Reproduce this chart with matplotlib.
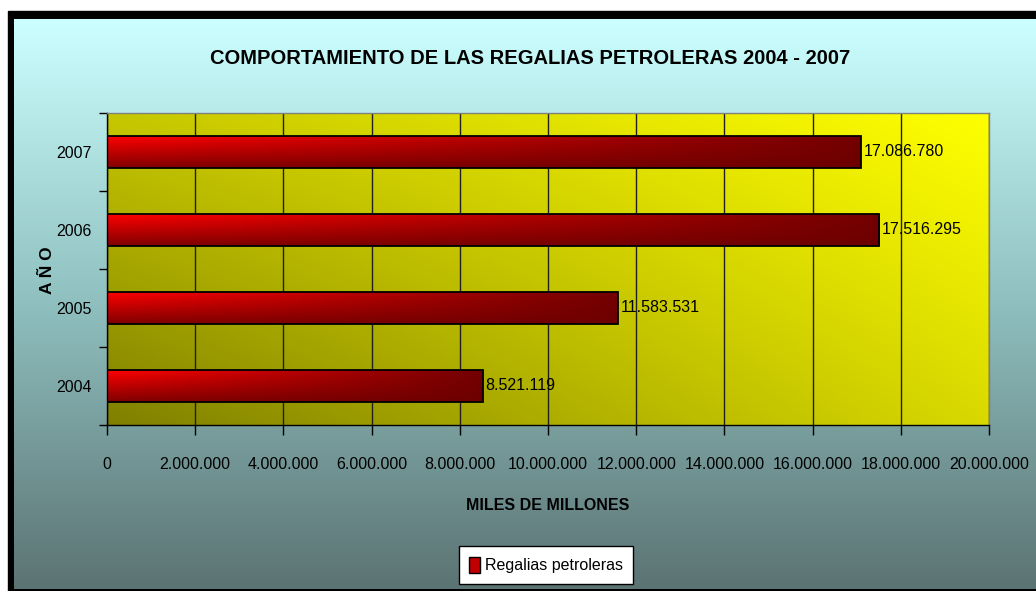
import numpy as np
import matplotlib
matplotlib.use('Agg')
import matplotlib.pyplot as plt
from matplotlib.colors import LinearSegmentedColormap
from matplotlib.patches import Rectangle, Patch
from matplotlib.ticker import FuncFormatter, MultipleLocator
from matplotlib import font_manager

# ─── Data ──────────────────────────────────────────────────────────────────
years = ['2004', '2005', '2006', '2007']
regalias = [8521119, 11583531, 17516295, 17086780]
series_name = 'Regalias petroleras'

TITLE = 'COMPORTAMIENTO DE LAS REGALIAS PETROLERAS 2004 - 2007'
XLABEL = 'MILES DE MILLONES'
YLABEL = 'A Ñ O'

# ─── Fonts ─────────────────────────────────────────────────────────────────
installed = {f.name for f in font_manager.fontManager.ttflist}
FAMILY = ['Liberation Sans Narrow', 'Liberation Sans', 'DejaVu Sans']
FAMILY = [f for f in FAMILY if f in installed] or ['DejaVu Sans']
plt.rcParams['font.family'] = FAMILY
FS = 11.5


def dots(v, _pos=None):
    return f'{int(round(v)):,}'.replace(',', '.')


W, H = 1036, 591
fig = plt.figure(figsize=(W / 100, H / 100), dpi=100)
fig.patch.set_facecolor('white')

# ─── Background (black frame + cyan→slate gradient) ────────────────────────
bg = fig.add_axes([0, 0, 1, 1], zorder=-10)
bg.add_patch(Rectangle((8, 11), W, H, color='black', zorder=1))
bg_cmap = LinearSegmentedColormap.from_list(
    'bg', [(0.0, '#ccffff'), (0.5, '#8fbfbf'), (1.0, '#5c7373')])
grad = np.linspace(0, 1, 256).reshape(-1, 1)
bg.imshow(grad, cmap=bg_cmap, aspect='auto', extent=(14, W + 10, 589, 19),
          interpolation='bicubic', zorder=2)
bg.set_xlim(0, W)
bg.set_ylim(H, 0)
bg.axis('off')

# ─── Plot area ─────────────────────────────────────────────────────────────
left, right = 107 / W, 989 / W
bottom, top = 1 - 425 / H, 1 - 113 / H
ax = fig.add_axes([left, bottom, right - left, top - bottom])
ax.patch.set_alpha(0)

XMAX = 20_000_000

# diagonal olive→yellow gradient
tx, ty = np.meshgrid(np.linspace(0, 1, 200), np.linspace(0, 1, 200))
v = 0.5 + 0.28 * ty + 0.35 * tx - 0.13 * tx * ty
img = np.dstack([v, v, np.zeros_like(v)])
ax.imshow(img, origin='lower', aspect='auto',
          extent=(0, XMAX, -0.5, len(years) - 0.5), zorder=0,
          interpolation='bicubic')

ax.xaxis.set_major_locator(MultipleLocator(2_000_000))
ax.xaxis.set_major_formatter(FuncFormatter(dots))
ax.grid(axis='x', color='#202020', linewidth=1.0, zorder=1)
ax.set_axisbelow(True)

# bars with red gradient fill
bars = ax.barh(range(len(years)), regalias, height=0.4, color='none',
               edgecolor='black', linewidth=1.3, zorder=3)
hx = np.linspace(0, 1, 200)
hy = np.linspace(0, 1, 50).reshape(-1, 1)
top_c = 255 - 140 * hx          # bright red → dark red along the bar
bot_c = 128 - 18 * hx
red = (bot_c + (top_c - bot_c) * hy) / 255.0
bar_img = np.dstack([red, np.zeros_like(red), np.zeros_like(red)])
for b in bars:
    x0, y0 = b.get_x(), b.get_y()
    im = ax.imshow(bar_img, origin='lower', aspect='auto',
                   extent=(x0, x0 + b.get_width(), y0, y0 + b.get_height()),
                   zorder=2, interpolation='bicubic')
    im.set_clip_path(b)
ax.set_xlim(0, XMAX)
ax.set_ylim(-0.5, len(years) - 0.5)

for i, val in enumerate(regalias):
    ax.annotate(dots(val), (val, i), xytext=(2, 0), textcoords='offset points',
                va='center', ha='left', fontsize=FS, zorder=5)

# ticks
ax.set_yticks(np.arange(-0.5, len(years), 1.0))
ax.set_yticklabels([])
ax.set_yticks(range(len(years)), minor=True)
ax.set_yticklabels(years, minor=True, fontsize=FS)
ax.tick_params(axis='y', which='major', direction='out', length=6,
               color='black', width=1)
ax.tick_params(axis='y', which='minor', length=0, pad=11)
ax.tick_params(axis='x', direction='out', length=7, width=1, pad=16,
               labelsize=FS)

for s in ('left', 'bottom'):
    ax.spines[s].set_color('black')
    ax.spines[s].set_linewidth(1.0)
for s in ('top', 'right'):
    ax.spines[s].set_color('#808080')
    ax.spines[s].set_linewidth(1.0)

# ─── Text ──────────────────────────────────────────────────────────────────
fig.text(530 / W, 1 - 58 / H, TITLE, ha='center', va='center',
         fontsize=14.5, fontweight='bold')
fig.text(548 / W, 1 - 505 / H, XLABEL, ha='center', va='center',
         fontsize=FS, fontweight='bold')
fig.text(47 / W, 1 - 270 / H, YLABEL, ha='center', va='center',
         fontsize=FS + 1, fontweight='bold', rotation=90)

leg = fig.legend(handles=[Patch(facecolor='#c00000', edgecolor='black',
                                label=series_name)],
                 loc='center', bbox_to_anchor=(546 / W, 1 - 565 / H),
                 fancybox=False, framealpha=1, edgecolor='black',
                 fontsize=FS, handlelength=0.7, handleheight=1.2,
                 handletextpad=0.3, borderpad=0.65, borderaxespad=0)
leg.get_frame().set_linewidth(1.0)

fig.savefig('out.png', dpi=100, facecolor=fig.get_facecolor())
